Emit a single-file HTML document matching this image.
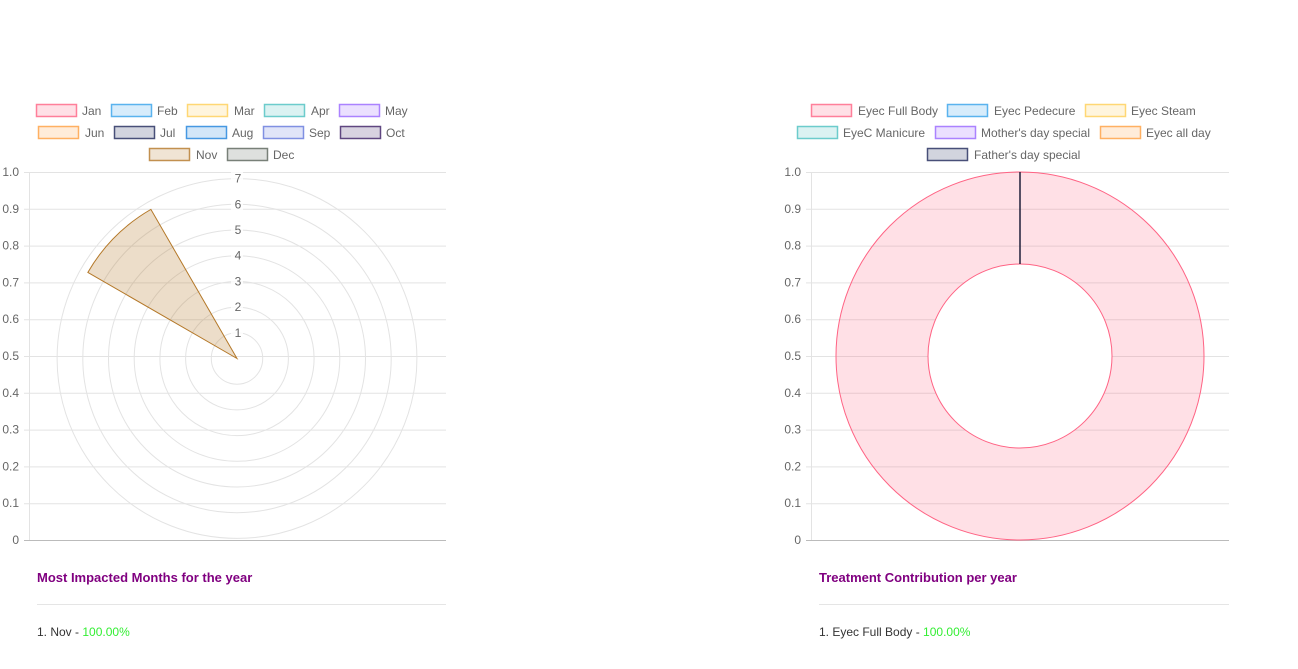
<!DOCTYPE html>
<html><head><meta charset="utf-8"><style>
body{margin:0;background:#fff;width:1298px;height:669px;overflow:hidden;font-family:"Liberation Sans",Arial,sans-serif}
svg{position:absolute;left:0;top:0}
text{font-family:"Liberation Sans",Arial,sans-serif}
</style></head><body>
<svg width="1298" height="669">
<g id="left"></g>
<g id="right"></g>
<text x="37" y="582" font-size="13" font-weight="bold" fill="#800080">Most Impacted Months for the year</text>
<line x1="37" y1="604.5" x2="446" y2="604.5" stroke="#e5e5e5"/>
<text x="37" y="636" font-size="12" fill="#333">1. Nov - <tspan fill="#33ee33">100.00%</tspan></text>
<text x="819" y="582" font-size="13" font-weight="bold" fill="#800080">Treatment Contribution per year</text>
<line x1="819" y1="604.5" x2="1229" y2="604.5" stroke="#e5e5e5"/>
<text x="819" y="636" font-size="12" fill="#333">1. Eyec Full Body - <tspan fill="#33ee33">100.00%</tspan></text>
</svg>
<script>
const months=["Jan","Feb","Mar","Apr","May","Jun","Jul","Aug","Sep","Oct","Nov","Dec"];
const monthValues=[0,0,0,0,0,0,0,0,0,0,6.7,0];
const radialTicks=[1,2,3,4,5,6,7];
const treatments=["Eyec Full Body","Eyec Pedecure","Eyec Steam","EyeC Manicure","Mother's day special","Eyec all day","Father's day special"];
const treatmentValues=[100,0,0,0,0,0,0];
const yTicks=[0,0.1,0.2,0.3,0.4,0.5,0.6,0.7,0.8,0.9,1.0];
const monthColors=[[255,99,132],[54,162,235],[255,206,86],[75,192,192],[153,102,255],[255,159,64],[31,40,90],[30,130,220],[100,120,220],[60,30,100],[180,120,40],[90,100,90]];
const treatColors=[[255,99,132],[54,162,235],[255,206,86],[75,192,192],[153,102,255],[255,159,64],[31,40,90]];
const NS="http://www.w3.org/2000/svg";
function mk(p,t,a){const e=document.createElementNS(NS,t);for(const k in a)e.setAttribute(k,a[k]);p.appendChild(e);return e;}
function axes(g,x0,x1){
  const y=v=>540-v*368;
  yTicks.forEach(v=>{
    const l=mk(g,'line',{x1:x0-5,x2:x1,y1:y(v)+.5,y2:y(v)+.5,stroke:v===0?'#bbb':'#e3e3e3'});
    
    
    const t=mk(g,'text',{x:x0-10,y:y(v)+4,'font-size':12,fill:'#666','text-anchor':'end'});
    t.textContent=v===0?'0':v.toFixed(1);
    
    
  });
  const a=mk(g,'line',{x1:x0+.5,x2:x0+.5,y1:172,y2:540,stroke:'#e3e3e3'});
  
  
}
function legend(g,items,colors,pos){
  items.forEach((n,i)=>{
    const [bx,ty,tx]=pos[i];const c=colors[i];
    const r=mk(g,'rect',{x:bx+.5,y:ty-6.5,width:40,height:12,fill:`rgba(${c},0.2)`,stroke:`rgba(${c},0.8)`,'stroke-width':1.5});
    
    
    const t=mk(g,'text',{x:tx,y:ty+4,'font-size':12,fill:'#666'});t.textContent=n;
    
    
  });
}
// left
const L=document.getElementById('left');
axes(L,29,446);
legend(L,months,monthColors,[[36,111,82],[111,111,157],[187,111,234],[264,111,311],[339,111,385],[38,133,85],[114,133,160],[186,133,232],[263,133,309],[340,133,386],[149,155,196],[227,155,273]]);
const cx=237,cy=358.5,step=25.7;
const rS=v=>v*step;
radialTicks.forEach(v=>{
  const c=mk(L,'circle',{cx,cy,r:rS(v),fill:'none',stroke:'#e3e3e3'});
  
  
});
monthValues.forEach((v,i)=>{
  if(v<=0)return;
  const a0=-Math.PI/2+i*Math.PI/6,a1=a0+Math.PI/6,r=rS(v);
  const p=mk(L,'path',{d:`M${cx},${cy}L${cx+r*Math.cos(a0)},${cy+r*Math.sin(a0)}A${r},${r} 0 0 1 ${cx+r*Math.cos(a1)},${cy+r*Math.sin(a1)}Z`,fill:`rgba(${monthColors[i]},0.25)`,stroke:`rgb(${monthColors[i]})`,'stroke-width':1});
  
  
});
radialTicks.forEach(v=>{
  const b=mk(L,'rect',{x:cx-6,y:cy-rS(v)-7,width:12,height:13,fill:'#fff',opacity:0.8});
  
  
  const t=mk(L,'text',{x:cx+1,y:cy-rS(v)+4,'font-size':12,fill:'#666','text-anchor':'middle'});t.textContent=v;
  
  
});
// right
const R=document.getElementById('right');
axes(R,811,1229);
legend(R,treatments,treatColors,[[811,111,858],[947,111,994],[1085,111,1131],[797,133,843],[935,133,981],[1100,133,1146],[927,155,974]]);
const dx=1020,dy=356,ro=184,ri=92;
const tot=treatmentValues.reduce((a,b)=>a+b,0);
let ang=-Math.PI/2;
treatmentValues.forEach((v,i)=>{
  const s=v/tot*2*Math.PI;const c=treatColors[i];
  if(s<=0){return;}
  let p;
  if(s>=2*Math.PI-1e-6){
    p=mk(R,'circle',{cx:dx,cy:dy,r:ro,fill:`rgba(${c},0.2)`,stroke:`rgb(${c})`,'stroke-width':1});
  }else{
    const a1=ang+s;
    p=mk(R,'path',{d:`M${dx+ro*Math.cos(ang)},${dy+ro*Math.sin(ang)}A${ro},${ro} 0 ${s>Math.PI?1:0} 1 ${dx+ro*Math.cos(a1)},${dy+ro*Math.sin(a1)}L${dx+ri*Math.cos(a1)},${dy+ri*Math.sin(a1)}A${ri},${ri} 0 ${s>Math.PI?1:0} 0 ${dx+ri*Math.cos(ang)},${dy+ri*Math.sin(ang)}Z`,fill:`rgba(${c},0.2)`,stroke:`rgb(${c})`,'stroke-width':1});
  }
  
  
  ang+=s;
});
const hole=mk(R,'circle',{cx:dx,cy:dy,r:ri,fill:'#fff',stroke:'rgb(255,99,132)','stroke-width':1});


const sep=mk(R,'line',{x1:dx,y1:dy-ro,x2:dx,y2:dy-ri,stroke:'#1f1f3a','stroke-width':1.5});


</script>
</body></html>
